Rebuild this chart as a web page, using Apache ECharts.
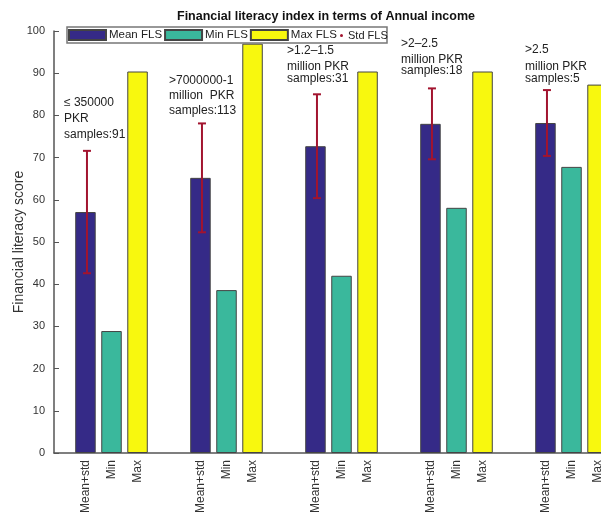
<!DOCTYPE html>
<html>
<head>
<meta charset="utf-8">
<script src="https://cdn.jsdelivr.net/npm/echarts@6/dist/echarts.min.js"></script>
<style>
html,body{margin:0;padding:0;background:#fff;}
#chart{width:601px;height:514px;}
</style>
</head>
<body>
<div id="chart"></div>
<script>
// ---- data ----
const groups = ['≤ 350000 PKR', '>7000000-1 million PKR', '>1.2–1.5 million PKR', '>2–2.5 million PKR', '>2.5 million PKR'];
const meanFLS = [57.1, 65.2, 72.7, 78.0, 78.2];
const stdFLS = [14.5, 12.9, 12.3, 8.4, 7.8];
const minFLS = [28.9, 38.6, 42.0, 58.1, 67.8];
const maxFLS = [90.4, 97.0, 90.4, 90.4, 87.3];
const barLabels = ['Mean+std', 'Min', 'Max'];
const annotations = [
  ['≤ 350000', 'PKR', 'samples:91'],
  ['>7000000-1', 'million  PKR', 'samples:113'],
  ['>1.2–1.5', 'million PKR', 'samples:31'],
  ['>2–2.5', 'million PKR', 'samples:18'],
  ['>2.5', 'million PKR', 'samples:5']
];
const yTicks = { min: 0, max: 100, interval: 10 };

// ---- layout / style ----
const FONT = 'Liberation Sans, Arial, sans-serif';
const BAR_W = 20.5;
const BAR_GAP = 0.27;
const colors = { mean: '#352a87', min: '#3ab89c', max: '#f8f80e', std: '#a2142f' };
const annotPos = [
  [64, [103, 119, 135]],
  [169, [81, 96, 111]],
  [287, [51, 67, 79]],
  [401, [44, 60, 71]],
  [525, [50, 67, 79]]
];

const chart = echarts.init(document.getElementById('chart'), null, { renderer: 'canvas' });

function barLabel(text) {
  return {
    show: true, position: 'bottom', distance: 7, rotate: 90,
    align: 'right', verticalAlign: 'middle',
    formatter: text, color: '#333', fontSize: 12, fontFamily: FONT
  };
}
const barItem = (c) => ({ color: c, borderColor: '#444', borderWidth: 1 });

const graphics = [
  { type: 'rect', shape: { x: 67, y: 27, width: 320, height: 16 },
    style: { fill: '#fff', stroke: '#777', lineWidth: 1.5 }, z: 10 }
];
annotations.forEach((lines, g) => {
  lines.forEach((t, i) => {
    graphics.push({ type: 'text', x: annotPos[g][0], y: annotPos[g][1][i], z: 5,
      style: { text: t, fill: '#222', fontSize: 12, fontFamily: FONT, verticalAlign: 'middle' } });
  });
});

const option = {
  animation: false,
  backgroundColor: '#fff',
  title: {
    text: 'Financial literacy index in terms of Annual income',
    left: 177, top: 10, padding: 0,
    textStyle: { fontSize: 12.5, fontWeight: 'bold', color: '#111', fontFamily: FONT }
  },
  legend: [
    { data: ['Mean FLS', 'Min FLS', 'Max FLS'], left: 68, top: 29, padding: 0,
      itemWidth: 37, itemHeight: 10, itemGap: 2, icon: 'rect', z: 20,
      textStyle: { fontSize: 11.5, color: '#222', fontFamily: FONT, padding: [0, 0, 0, -2] } },
    { data: ['Std FLS'], left: 340, top: 30, padding: 0, z: 20,
      itemWidth: 3, itemHeight: 3, icon: 'circle',
      textStyle: { fontSize: 11, color: '#222', fontFamily: FONT } }
  ],
  graphic: graphics,
  grid: { left: 54, top: 31, width: 575, height: 422, containLabel: false, outerBoundsMode: 'none' },
  xAxis: {
    type: 'category', data: groups,
    axisLine: { show: true, lineStyle: { color: '#555', width: 1.5 } },
    axisTick: { show: false }, axisLabel: { show: false }, splitLine: { show: false }
  },
  yAxis: {
    type: 'value', min: yTicks.min, max: yTicks.max, interval: yTicks.interval,
    name: 'Financial literacy score', nameLocation: 'middle', nameGap: 28, nameMoveOverlap: false,
    nameTextStyle: { fontSize: 14, color: '#333', fontFamily: FONT },
    axisLine: { show: true, lineStyle: { color: '#555', width: 1.5 } },
    axisTick: { show: true, inside: true, length: 5, lineStyle: { color: '#555' } },
    axisLabel: { fontSize: 11, color: '#333', fontFamily: FONT, margin: 9 },
    splitLine: { show: false }
  },
  series: [
    { name: 'Mean FLS', type: 'bar', data: meanFLS, barWidth: BAR_W, barGap: (BAR_GAP * 100) + '%',
      itemStyle: barItem(colors.mean), label: barLabel(barLabels[0]) },
    { name: 'Min FLS', type: 'bar', data: minFLS, barWidth: BAR_W,
      itemStyle: barItem(colors.min), label: barLabel(barLabels[1]) },
    { name: 'Max FLS', type: 'bar', data: maxFLS, barWidth: BAR_W,
      itemStyle: barItem(colors.max), label: barLabel(barLabels[2]) },
    { name: 'Std FLS', type: 'custom', z: 5,
      itemStyle: { color: colors.std },
      data: meanFLS.map((m, i) => [i, m, stdFLS[i]]),
      renderItem: function (params, api) {
        const i = api.value(0), m = api.value(1), s = api.value(2);
        const top = api.coord([i, m + s]);
        const bot = api.coord([i, m - s]);
        const x = top[0] - (BAR_W + BAR_W * BAR_GAP) + 1.5;
        const cap = 4;
        const st = { stroke: colors.std, lineWidth: 2 };
        return { type: 'group', children: [
          { type: 'line', shape: { x1: x, y1: top[1], x2: x, y2: bot[1] }, style: st },
          { type: 'line', shape: { x1: x - cap, y1: top[1], x2: x + cap, y2: top[1] }, style: st },
          { type: 'line', shape: { x1: x - cap, y1: bot[1], x2: x + cap, y2: bot[1] }, style: st }
        ] };
      }
    }
  ]
};
chart.setOption(option);
</script>
</body>
</html>
